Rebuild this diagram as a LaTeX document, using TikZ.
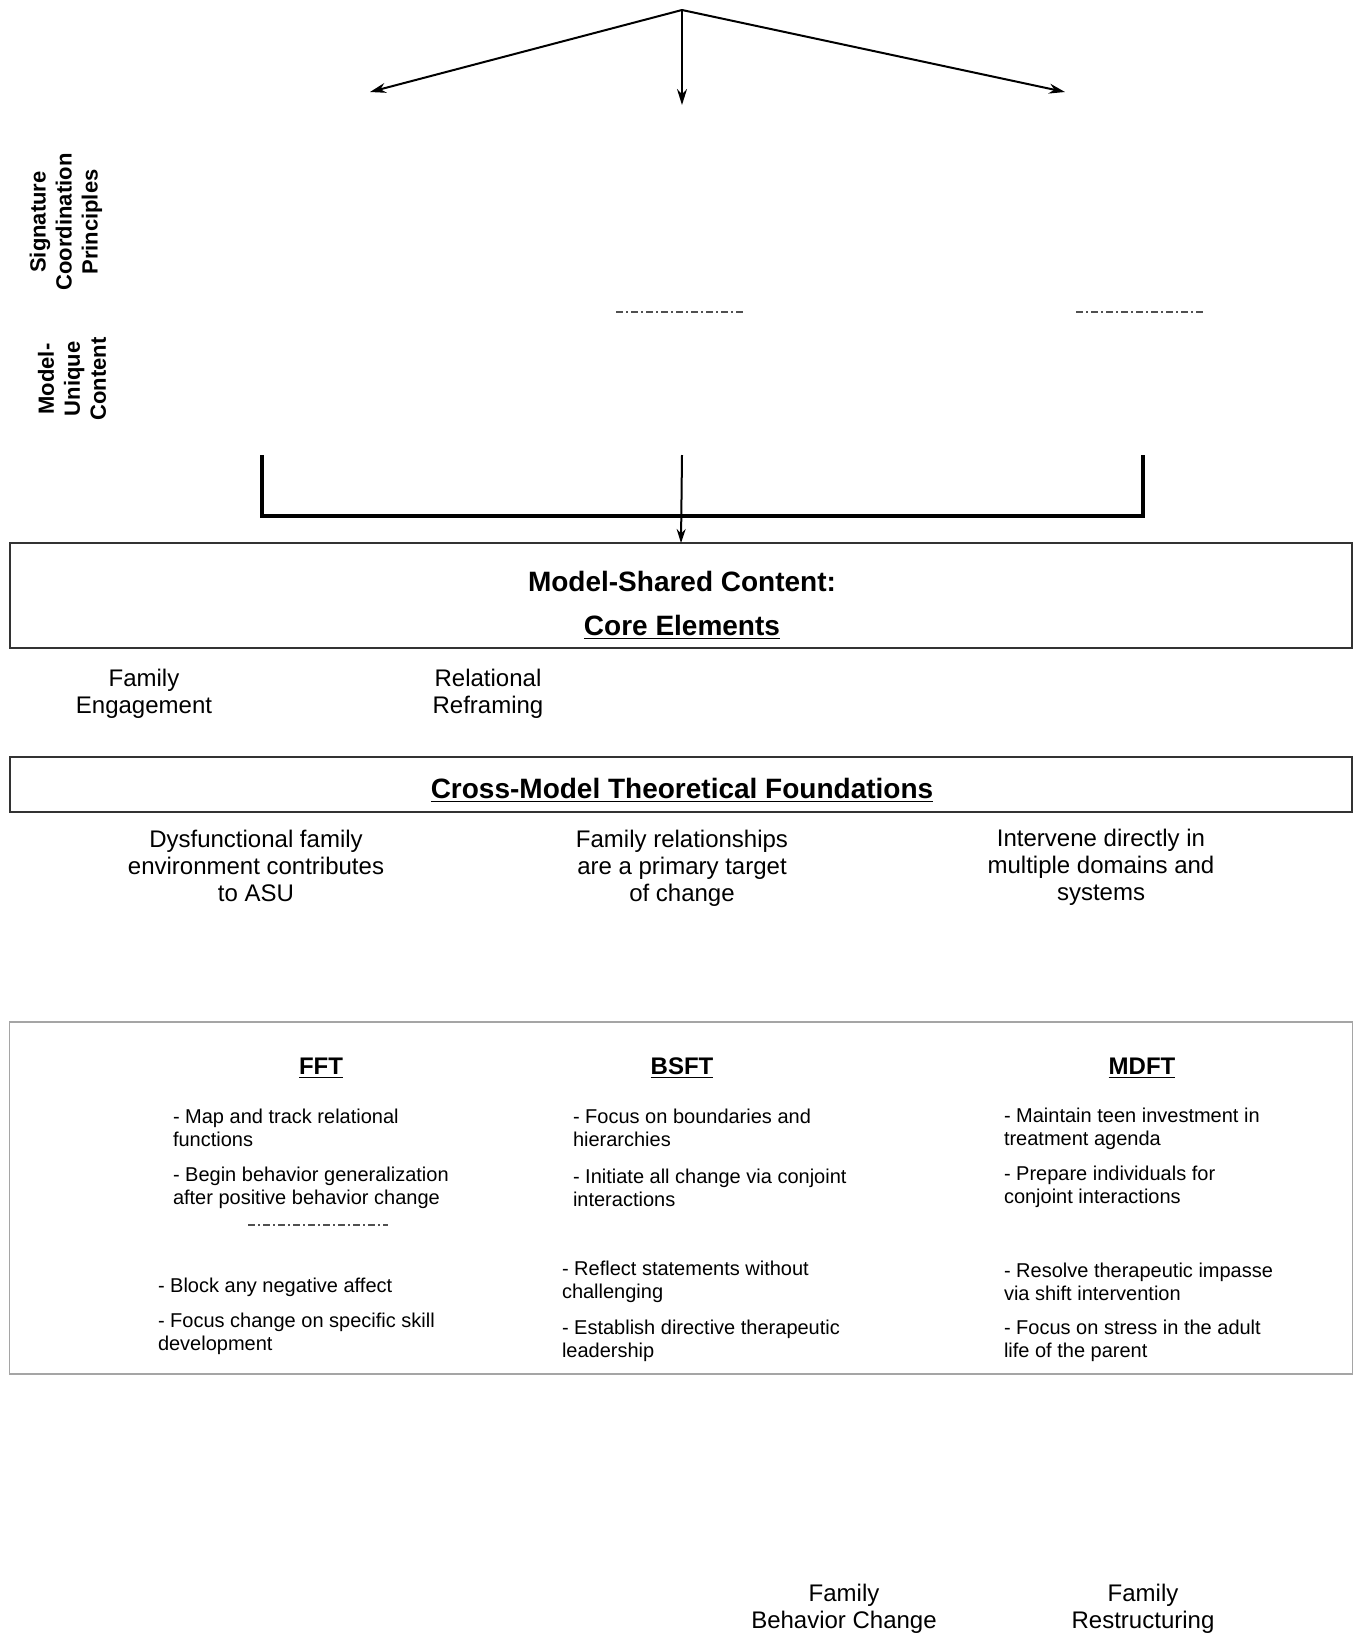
\documentclass[tikz,border=0pt]{standalone}
\usepackage{fontspec}
\setmainfont{Liberation Sans}
\usepackage{tikz}
\usetikzlibrary{arrows.meta,positioning}
\definecolor{boxgray}{RGB}{51,51,51}
\definecolor{panelgray}{RGB}{165,165,165}
\definecolor{dashgray}{RGB}{80,80,80}
\tikzset{
  every node/.style={inner sep=0pt, outer sep=0pt},
  bodytext/.style={align=center, font=\fontsize{12}{13.6}\selectfont},
  itemtext/.style={align=left, anchor=west, font=\fontsize{10}{11.5}\selectfont},
  headtext/.style={font=\fontsize{14}{16}\selectfont\bfseries},
  colhead/.style={font=\fontsize{12}{14}\selectfont\bfseries},
  sidelabel/.style={rotate=90, align=center, font=\fontsize{11}{13}\selectfont\bfseries},
  framebox/.style={draw=boxgray, line width=1pt, minimum width=671.3pt},
  splitarrow/.style={line width=1pt, -{Stealth[length=8pt,width=5pt]}},
  bracketline/.style={line width=1.6pt},
  dashmark/.style={dashgray, line width=0.9pt, dash pattern=on 3.5pt off 1.5pt on 1pt off 1.5pt}
}

\begin{document}
\begin{tikzpicture}[x=0.5pt,y=-0.5pt]
\useasboundingbox (0,0) rectangle (1356,1634);

% arrows from the top
\coordinate (apex) at (682,10);
\coordinate (leftend) at (370,92);
\coordinate (midend) at (682,105);
\coordinate (rightend) at (1065,92);
\draw[splitarrow] (apex) -- (leftend);
\draw[splitarrow] (apex) -- (midend);
\draw[splitarrow] (apex) -- (rightend);

% row labels
\node[sidelabel] (sigcoord) at (66,222) {Signature\\Coordination\\Principles};
\node[sidelabel] (uniquelab) at (72,379) {Model-\\Unique\\Content};

\draw[dashmark] (616,312) -- (744,312);
\draw[dashmark] (1076,312) -- (1205,312);

% bracket into the shared box
\coordinate (brleft) at (262,455);
\coordinate (brleftlow) at (262,516);
\coordinate (brright) at (1143,455);
\coordinate (brrightlow) at (1143,516);
\coordinate (brmidtop) at (682,455);
\draw[bracketline] (brleft) -- (brleftlow) -- (brrightlow) -- (brright);

\node[framebox, minimum height=52.5pt] (sharedbox) at (681,595.5) {};
\node[headtext] (sharedtitle) at (682,581) {Model-Shared Content:};
\node[headtext] (coretitle) at (682,627) {\underline{Core Elements}};
\draw[line width=1pt, -{Stealth[length=7pt,width=4.5pt]}] (brmidtop) -- (sharedbox.north);

\node[bodytext] (engage) at (144,694) {Family\\Engagement};
\node[bodytext] (reframe) at (488,694) {Relational\\Reframing};

% foundations
\node[framebox, minimum height=27.5pt] (foundbox) at (681,784.5) {};
\node[headtext] (foundtitle) at (682,790) {\underline{Cross-Model Theoretical Foundations}};

\node[bodytext] (dysfunc) at (256,866) {Dysfunctional family\\environment contributes\\to ASU};
\node[bodytext] (target) at (682,868) {Family relationships\\are a primary target\\of change};
\node[bodytext] (domains) at (1101,867) {Intervene directly in\\multiple domains and\\systems};

% model panel
\node[draw=panelgray, line width=0.6pt, minimum width=671.3pt, minimum height=176pt] (modelpanel) at (681,1198) {};
\node[colhead] (ffthead) at (321,1068) {\underline{FFT}};
\node[colhead] (bsfthead) at (682,1068) {\underline{BSFT}};
\node[colhead] (mdfthead) at (1142,1068) {\underline{MDFT}};

\node[itemtext] (fftone) at (173,1128) {- Map and track relational\\functions};
\node[itemtext] (ffttwo) at (173,1187.5) {- Begin behavior generalization\\after positive behavior change};
\draw[dashmark] (248,1225) -- (388,1225);
\node[itemtext] (fftthree) at (158,1287.5) {- Block any negative affect};
\node[itemtext] (fftfour) at (158,1334) {- Focus change on specific skill\\development};

\node[itemtext] (bsftone) at (573,1128) {- Focus on boundaries and\\hierarchies};
\node[itemtext] (bsfttwo) at (573,1187.5) {- Initiate all change via conjoint\\interactions};
\node[itemtext] (bsftthree) at (562,1282) {- Reflect statements without\\challenging};
\node[itemtext] (bsftfour) at (562,1340.5) {- Establish directive therapeutic\\leadership};

\node[itemtext] (mdftone) at (1004,1128.5) {- Maintain teen investment in\\treatment agenda};
\node[itemtext] (mdfttwo) at (1004,1186.5) {- Prepare individuals for\\conjoint interactions};
\node[itemtext] (mdftthree) at (1004,1281.5) {- Resolve therapeutic impasse\\via shift intervention};
\node[itemtext] (mdftfour) at (1004,1340.5) {- Focus on stress in the adult\\life of the parent};

% bottom labels
\node[bodytext] (behavchange) at (844,1609) {Family\\Behavior Change};
\node[bodytext] (restruct) at (1143,1609) {Family\\Restructuring};
\end{tikzpicture}
\end{document}
